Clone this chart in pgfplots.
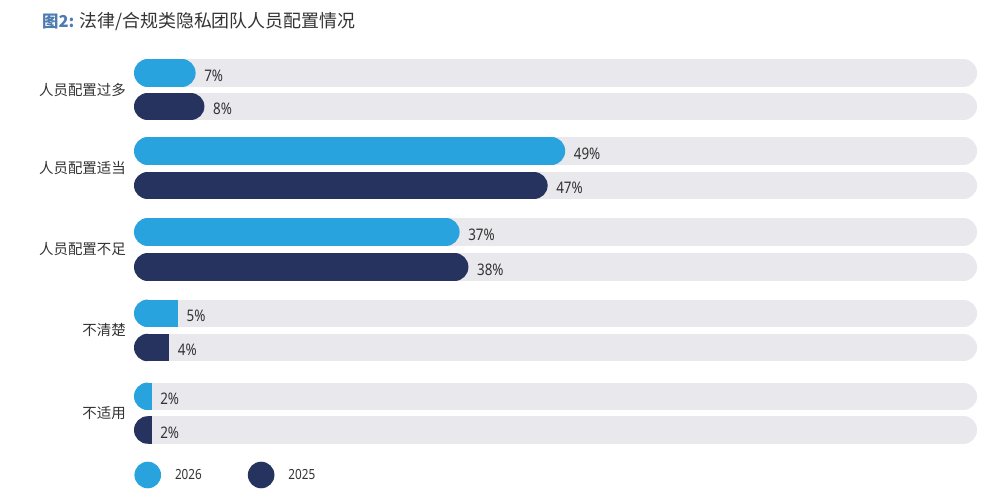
\documentclass[border=0pt]{standalone}
\usepackage{fontspec}
\usepackage{pgfplots}
\pgfplotsset{compat=1.18}
\setmainfont{Noto Sans CJK SC}
\newfontfamily\cjk{Noto Sans CJK SC}
\newfontfamily\numfont[FakeStretch=0.84]{Noto Sans}
\definecolor{cA}{HTML}{29A3DD}
\definecolor{cB}{HTML}{26335F}
\definecolor{track}{HTML}{E8E8ED}
\definecolor{titleblue}{HTML}{4F7BB0}
\definecolor{txt}{HTML}{333333}
\pgfdeclareplotmark{lefthalf}{%
  \pgfpathmoveto{\pgfqpoint{0pt}{\pgfplotmarksize}}%
  \pgfpatharc{90}{270}{\pgfplotmarksize}%
  \pgfpathclose
  \pgfusepathqfill}
\begin{document}
\begin{tikzpicture}
\useasboundingbox (0,0) rectangle (1007bp,501bp);
\begin{axis}[
  at={(0,0)}, anchor=south west, scale only axis,
  width=1007bp, height=501bp,
  xmin=-15.22727, xmax=99.20455, ymin=-501, ymax=0,
  hide axis, clip=false,
  trackbar/.style={draw=track, line width=27.5bp, line cap=round, shorten <=13.75bp, shorten >=13.75bp},
  roundbar/.style={draw=#1, line width=27.5bp, line cap=round, shorten <=13.75bp, shorten >=13.75bp},
  halfbar/.style={draw=#1, line width=27.5bp, line cap=butt, shorten <=13.7bp,
    mark=lefthalf, mark indices={1}, mark size=13.75bp,
    mark options={fill=#1, draw=none, xshift=13.75bp}},
  vlabels/.style={draw=none, point meta=x,
    nodes near coords={\pgfmathprintnumber{\pgfplotspointmeta}\%},
    nodes near coords style={anchor=west, xshift=8.5bp, yshift=-2.5bp, inner sep=0pt,
      /pgf/number format/assume math mode=true,
      font=\numfont\fontsize{16}{18}\selectfont, text=txt}},
  legend image code/.code={\fill[#1, draw=none] (13.3bp,0bp) circle (13.3bp);},
  legend style={at={(axis cs:0.05,-475)}, anchor=west, draw=none, fill=none,
    legend columns=2, inner sep=0pt, outer sep=0pt,
    font=\numfont\fontsize{14}{16}\selectfont, text=txt,
    /tikz/every odd column/.append style={column sep=12bp},
    /tikz/every even column/.append style={column sep=44bp}},
]
% grey tracks
\pgfplotsinvokeforeach{-73,-106.5,-151,-185.5,-232,-267,-313.3,-347.5,-396.3,-430}{
  \addplot[trackbar, forget plot] coordinates {(0,#1) (95.8,#1)};
}
% 2026
\addplot[roundbar=cA, forget plot] coordinates {(0,-73) (7,-73)};
\addplot[roundbar=cA, forget plot] coordinates {(0,-151) (49,-151)};
\addplot[roundbar=cA, forget plot] coordinates {(0,-232) (37,-232)};
\addplot[halfbar=cA, forget plot] coordinates {(0,-313.3) (5,-313.3)};
\addplot[halfbar=cA, forget plot] coordinates {(0,-396.3) (2,-396.3)};
% 2025
\addplot[roundbar=cB, forget plot] coordinates {(0,-106.5) (8,-106.5)};
\addplot[roundbar=cB, forget plot] coordinates {(0,-185.5) (47,-185.5)};
\addplot[roundbar=cB, forget plot] coordinates {(0,-267) (38,-267)};
\addplot[halfbar=cB, forget plot] coordinates {(0,-347.5) (4,-347.5)};
\addplot[halfbar=cB, forget plot] coordinates {(0,-430) (2,-430)};
% value labels
\addplot[vlabels, forget plot] coordinates {(7,-73) (49,-151) (37,-232) (5,-313.3) (2,-396.3)};
\addplot[vlabels, forget plot] coordinates {(8,-106.5) (47,-185.5) (38,-267) (4,-347.5) (2,-430)};
% legend
\addlegendimage{fill=cA}
\addlegendentry{2026}
\addlegendimage{fill=cB}
\addlegendentry{2025}
% category labels
\begin{scope}[every node/.style={anchor=east, inner sep=0pt, text=txt, font=\cjk\fontsize{14.5}{16}\selectfont}]
\node at (axis cs:-0.91,-89.75) {人员配置过多};
\node at (axis cs:-0.91,-168.25) {人员配置适当};
\node at (axis cs:-0.91,-249.5) {人员配置不足};
\node at (axis cs:-0.91,-330.4) {不清楚};
\node at (axis cs:-0.91,-413.15) {不适用};
\end{scope}
% title
\node[anchor=west, inner sep=0pt, text=txt, font=\cjk\fontsize{18}{21}\selectfont] at (axis cs:-10.4545,-22)
  {{\color{titleblue}\fontsize{16.5}{19}\selectfont\bfseries 图2:}\hspace{5bp}法律/合规类隐私团队人员配置情况};
\end{axis}
\end{tikzpicture}
\end{document}
